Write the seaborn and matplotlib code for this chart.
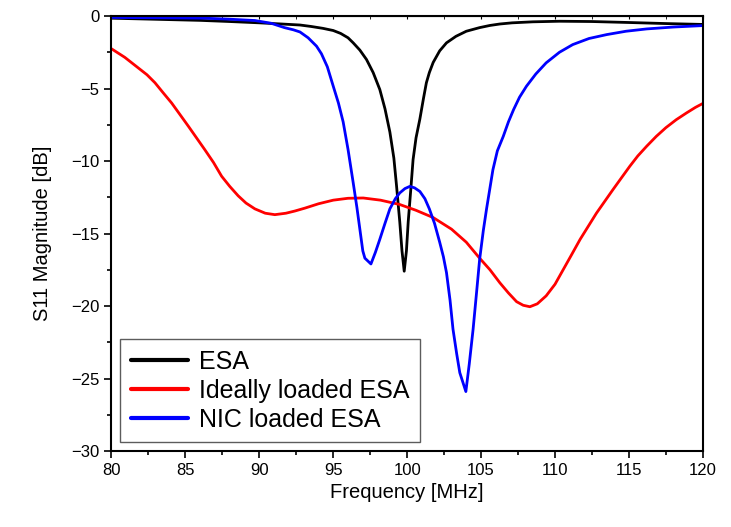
import numpy as np
import pandas as pd
import matplotlib
matplotlib.use("Agg")
import matplotlib.pyplot as plt
from matplotlib.ticker import MultipleLocator
import seaborn as sns

# values
esa_freq = [80.0, 82.0, 84.0, 86.0, 88.0, 90.0, 91.5, 92.75, 93.5, 94.3, 95.0, 95.5,
            96.0, 96.35, 96.8, 97.25, 97.7, 98.15, 98.5, 98.83, 99.1, 99.28, 99.5,
            99.65, 99.8, 99.95, 100.07, 100.25, 100.4, 100.6, 100.86, 101.1, 101.3,
            101.5, 101.76, 102.2, 102.66, 103.3, 104.0, 104.9, 105.6, 106.27, 107.1,
            108.5, 110.3, 112.5, 115.1, 117.5, 120.0]
esa_s11 = [-0.15, -0.2, -0.25, -0.3, -0.38, -0.47, -0.55, -0.62, -0.72, -0.85, -1.0, -1.2,
           -1.5, -1.85, -2.35, -3.0, -3.9, -5.07, -6.4, -8.0, -9.8, -11.7, -14.2,
           -16.2, -17.6, -16.2, -14.2, -11.9, -9.9, -8.4, -7.1, -5.7, -4.6,
           -3.9, -3.2, -2.4, -1.85, -1.4, -1.05, -0.8, -0.65, -0.55, -0.47,
           -0.4, -0.36, -0.38, -0.45, -0.52, -0.58]

ideal_freq = [80.0, 80.9, 81.8, 82.4, 82.94, 83.5, 84.07, 84.6, 85.2, 85.75, 86.3, 86.9,
              87.45, 88.0, 88.57, 89.1, 89.7, 90.4, 91.05, 91.8, 92.4, 93.08, 94.0,
              95.0, 96.0, 97.03, 98.2, 99.5, 100.6, 101.76, 103.0, 104.0, 104.9,
              105.6, 106.27, 106.85, 107.4, 107.85, 108.3, 108.8, 109.4, 110.0, 110.55,
              111.1, 111.7, 112.25, 112.8, 113.35, 113.9, 114.5, 115.06, 115.6, 116.2,
              116.85, 117.5, 118.2, 118.9, 119.5, 120.0]
ideal_s11 = [-2.26, -2.85, -3.57, -4.05, -4.6, -5.3, -6.0, -6.75, -7.6, -8.4, -9.2, -10.1,
             -11.05, -11.75, -12.4, -12.9, -13.3, -13.6, -13.7, -13.6, -13.45, -13.25, -12.95,
             -12.7, -12.57, -12.55, -12.7, -13.0, -13.4, -13.9, -14.7, -15.6, -16.7,
             -17.5, -18.4, -19.1, -19.7, -19.95, -20.05, -19.85, -19.3, -18.5, -17.5,
             -16.5, -15.4, -14.5, -13.6, -12.8, -12.0, -11.15, -10.36, -9.65, -8.98,
             -8.3, -7.7, -7.15, -6.68, -6.3, -6.03]

nic_freq = [80.0, 83.0, 86.3, 88.0, 89.7, 90.8, 91.7, 92.3, 92.75, 93.3, 93.87, 94.2,
            94.6, 95.0, 95.35, 95.67, 96.0, 96.35, 96.6, 96.8, 97.0, 97.14, 97.55,
            97.85, 98.15, 98.5, 98.83, 99.2, 99.5, 99.85, 100.18, 100.5, 100.86,
            101.2, 101.5, 101.85, 102.2, 102.45, 102.66, 102.9, 103.1, 103.35, 103.56,
            103.97, 104.2, 104.46, 104.7, 104.9, 105.15, 105.37, 105.8, 106.1, 106.5,
            106.85, 107.2, 107.6, 108.07, 108.7, 109.4, 110.3, 111.2, 112.3, 113.5,
            114.8, 116.2, 118.0, 120.0]
nic_s11 = [-0.1, -0.12, -0.15, -0.22, -0.31, -0.5, -0.8, -0.95, -1.1, -1.5, -2.08, -2.6,
           -3.5, -4.84, -6.0, -7.3, -9.2, -11.5, -13.2, -14.7, -16.2, -16.7, -17.1,
           -16.3, -15.4, -14.3, -13.3, -12.6, -12.2, -11.9, -11.75, -11.85, -12.1,
           -12.6, -13.3, -14.3, -15.6, -16.6, -17.7, -19.6, -21.6, -23.3, -24.6,
           -25.9, -24.0, -21.6, -19.0, -16.8, -14.8, -13.3, -10.6, -9.3, -8.3,
           -7.3, -6.45, -5.6, -4.84, -4.0, -3.23, -2.5, -1.97, -1.55, -1.28,
           -1.05, -0.89, -0.76, -0.66]

labels = ["ESA", "Ideally loaded ESA", "NIC loaded ESA"]
colors = ["black", "red", "blue"]

df = pd.concat([
    pd.DataFrame({"freq": esa_freq, "s11": esa_s11, "curve": labels[0]}),
    pd.DataFrame({"freq": ideal_freq, "s11": ideal_s11, "curve": labels[1]}),
    pd.DataFrame({"freq": nic_freq, "s11": nic_s11, "curve": labels[2]}),
])

sns.set_style("ticks")
plt.rcParams["font.family"] = ["Liberation Sans", "DejaVu Sans"]
plt.rcParams["text.color"] = "black"
plt.rcParams["axes.labelcolor"] = "black"
plt.rcParams["xtick.color"] = "black"
plt.rcParams["ytick.color"] = "black"

fig = plt.figure(figsize=(7.31, 5.27), dpi=100)
ax = fig.add_axes([0.1525, 0.1442, 0.809, 0.8254])

sns.lineplot(data=df, x="freq", y="s11", hue="curve", hue_order=labels,
             palette=dict(zip(labels, colors)), estimator=None, sort=False,
             linewidth=2.0, ax=ax)

ax.set_xlim(80, 120)
ax.set_ylim(-30, 0)
ax.xaxis.set_major_locator(MultipleLocator(5))
ax.xaxis.set_minor_locator(MultipleLocator(2.5))
ax.yaxis.set_major_locator(MultipleLocator(5))
ax.yaxis.set_minor_locator(MultipleLocator(2.5))
ax.tick_params(which="major", direction="out", length=5, width=1.2,
               labelsize=12, color="black", labelcolor="black")
ax.tick_params(which="minor", direction="out", length=3, width=1.2, color="black")
for s in ax.spines.values():
    s.set_linewidth(1.5)
    s.set_color("black")

# tiny inward ticks on the top spine, like the original
ax2 = ax.secondary_xaxis("top")
ax2.tick_params(which="both", direction="in", length=2, color="black")
ax2.xaxis.set_major_locator(MultipleLocator(5))
ax2.xaxis.set_minor_locator(MultipleLocator(2.5))
ax2.set_xticklabels([])

ax.set_xlabel("Frequency [MHz]", fontsize=14.5, color="black")
ax.set_ylabel("S11 Magnitude [dB]", fontsize=14.5, labelpad=14, color="black")

leg = ax.legend(loc="lower left", fontsize=18, frameon=True, fancybox=False,
                handlelength=2.3, handletextpad=0.45, borderpad=0.42,
                labelspacing=0.2, borderaxespad=0.35)
leg.get_frame().set_edgecolor("#333333")
leg.get_frame().set_linewidth(1.0)
for txt in leg.get_texts():
    txt.set_color("black")
for line in leg.get_lines():
    line.set_linewidth(3)

fig.savefig("out.png", dpi=100)
